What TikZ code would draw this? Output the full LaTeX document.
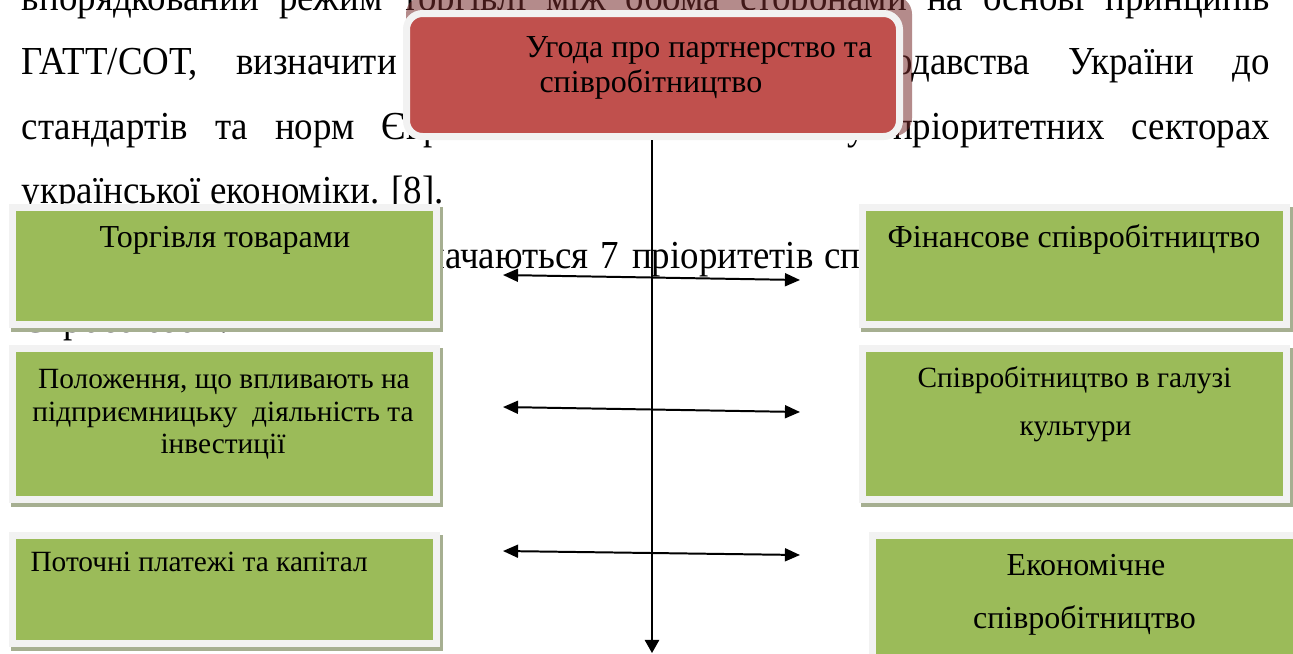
\documentclass[tikz,border=0pt]{standalone}
\usepackage{fontspec}
\setmainfont{Liberation Serif}
\newfontfamily\bodyfnt{Liberation Serif}[FakeStretch=0.93]
\usetikzlibrary{arrows.meta,calc}
\newdimen\pxu \pxu=0.378pt
\definecolor{boxgreen}{HTML}{9BBB59}
\definecolor{boxred}{HTML}{C0504D}
\definecolor{frameg}{HTML}{F2F2F2}
\definecolor{gshadow}{RGB}{166,175,145}
\definecolor{rshadow}{RGB}{120,45,45}
\pgfdeclarelayer{bodytext}
\pgfdeclarelayer{shade}
\pgfsetlayers{bodytext,shade,main}
\tikzset{
 body/.style={inner sep=0pt, outer sep=0pt, anchor=base west, font=\bodyfnt\fontsize{15}{18}\selectfont},
 lbl/.style={inner sep=0pt, anchor=base, font=\fontsize{12.1}{14}\selectfont},
 lbls/.style={inner sep=0pt, anchor=base, font=\fontsize{11.1}{13}\selectfont},
 gbox/.style={rectangle, fill=boxgreen, draw=frameg, line width=7\pxu, inner sep=0pt, minimum width=424\pxu},
 hbox/.style={rectangle, rounded corners=16\pxu, fill=boxred, draw=frameg, line width=7\pxu, inner sep=0pt},
 link/.style={line width=0.75pt, {Triangle[length=5.7pt,width=4.9pt]}-{Triangle[length=5.7pt,width=4.9pt]}},
 down/.style={line width=0.6pt, -{Triangle[length=5pt,width=5.5pt]}},
}
\begin{document}
\begin{tikzpicture}[x=0.378pt,y=-0.378pt]
\useasboundingbox (0,0) rectangle (1293,653);
\clip (0,0) rectangle (1293,653);
\begin{pgfonlayer}{bodytext}
\fill[white] (0,0) rectangle (1293,653);
\node[body] (b1) at (22,10) {\makebox[1248\pxu][s]{впорядкований режим торгівлі між обома сторонами на основі принципів}};
\node[body] (b2) at (22,74.5) {\makebox[1248\pxu][s]{ГАТТ/СОТ, визначити напрямки адаптації законодавства України до}};
\node[body] (b3) at (22,139) {\makebox[1248\pxu][s]{стандартів та норм Європейського\hspace{231\pxu}у пріоритетних секторах}};
\node[body] (b4) at (22,203.5) {української економіки. [8].};
\node[body] (b5) at (374,268) {визначаються\hspace{12\pxu}7\hspace{13\pxu}пріоритетів\hspace{11\pxu}співробітництва з};
\node[body] (b6) at (22,332.5) {Євросоюзом.};
\end{pgfonlayer}

% boxes
\node[hbox, minimum width=493\pxu, minimum height=123\pxu] (hdr) at (653,75) {};
\node[gbox, minimum height=117\pxu] (tg) at (224.5,266) {};
\node[gbox, minimum height=151\pxu] (pl) at (224.5,424) {};
\node[gbox, minimum height=108\pxu] (pt) at (224.5,589.5) {};
\node[gbox, minimum height=117\pxu] (fn) at (1074.5,266) {};
\node[gbox, minimum height=151\pxu] (kl) at (1074.5,424) {};
\node[gbox, minimum width=425\pxu, minimum height=150\pxu] (ek) at (1085,610.5) {};

\begin{pgfonlayer}{shade}
\fill[rshadow, opacity=0.55, rounded corners=18\pxu] ($(hdr.north west)+(3,-14)$) rectangle ($(hdr.south east)+(9,-4)$);
\foreach \b in {tg,pl,pt,fn,kl,ek}{
  \fill[gshadow] ($(\b.north west)+(2,3)$) rectangle ($(\b.south east)+(3,4)$);
}
\end{pgfonlayer}

% labels
\node[lbl, anchor=base west] (h1) at (525,57) {Угода про партнерство та};
\node[lbl, anchor=base west] (h2) at (539,92) {співробітництво};
\node[lbl] (tgl) at (225,247) {Торгівля товарами};
\node[lbl] (fnl) at (1074,247) {Фінансове співробітництво};
\node[lbls] (pl1) at (224,388) {Положення, що впливають на};
\node[lbls] (pl2) at (223,421) {підприємницьку\ \ діяльність та};
\node[lbls] (pl3) at (223,453) {інвестиції};
\node[lbls] (kl1) at (1074.5,387) {Співробітництво в галузі};
\node[lbls] (kl2) at (1075.5,435) {культури};
\node[lbls, anchor=base west] (ptl) at (30,571) {Поточні платежі та капітал};
\node[lbl] (el1) at (1086,575) {Економічне};
\node[lbl] (el2) at (1084.5,628) {співробітництво};

% connectors
\coordinate (vend) at (652,653);
\draw[down] (hdr.south -| vend) -- (vend);
\coordinate (a1l) at (503,275); \coordinate (a1r) at (800,280);
\coordinate (a2l) at (503,407); \coordinate (a2r) at (800,412);
\coordinate (a3l) at (503,551); \coordinate (a3r) at (800,555);
\draw[link] (a1l) -- (a1r);
\draw[link] (a2l) -- (a2r);
\draw[link] (a3l) -- (a3r);
\end{tikzpicture}
\end{document}
